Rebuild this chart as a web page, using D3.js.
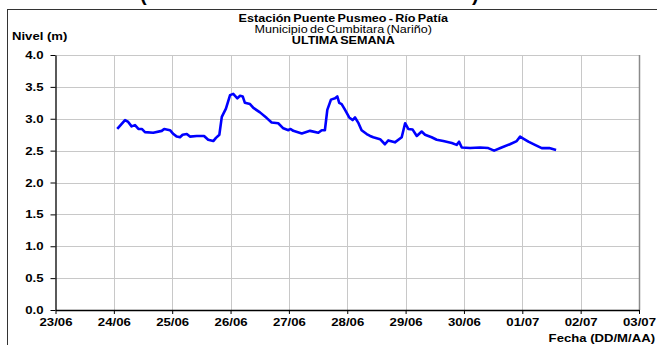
<!DOCTYPE html>
<html><head><meta charset="utf-8">
<script src="https://cdn.jsdelivr.net/npm/d3@7"></script>
<style>
html,body{margin:0;padding:0;background:#fff;overflow:hidden;}
text{font-family:"Liberation Sans",Arial,sans-serif;}
</style></head>
<body>
<script>
// ---- data ----
const startDate = "2023-06-23";
const hoursFromStart = [25.4,28.6,29.9,31.3,32.7,34.1,35.5,36.8,40.2,43.7,44.7,47.1,48.5,49.9,51.2,52.3,54.0,55.3,58.1,61.1,62.8,64.9,66.0,67.4,68.4,70.1,71.8,73.1,74.8,75.9,77.0,77.9,80.0,81.4,84.1,86.9,88.9,91.6,93.7,95.8,96.7,97.8,101.3,104.7,108.1,109.5,110.8,111.8,113.3,115.0,115.9,116.7,117.7,119.1,120.8,122.2,123.2,124.5,125.9,128.0,129.4,130.7,133.5,135.5,136.9,139.6,142.4,143.8,145.1,146.9,148.6,150.6,152.0,154.7,156.8,159.5,163.0,165.0,166.0,167.1,170.5,174.6,178.0,180.4,183.5,186.9,189.7,191.1,192.4,194.5,197.2,200.0,203.1,205.9];
const nivel = [2.84,2.98,2.95,2.88,2.90,2.84,2.84,2.79,2.78,2.81,2.84,2.82,2.76,2.72,2.71,2.75,2.76,2.72,2.73,2.73,2.67,2.65,2.70,2.75,3.03,3.16,3.37,3.39,3.32,3.36,3.35,3.25,3.23,3.17,3.10,3.01,2.94,2.93,2.85,2.82,2.84,2.81,2.77,2.81,2.78,2.82,2.82,3.14,3.30,3.32,3.35,3.25,3.23,3.14,3.02,2.98,3.02,2.94,2.82,2.76,2.73,2.71,2.68,2.60,2.66,2.63,2.71,2.93,2.84,2.83,2.73,2.80,2.75,2.71,2.67,2.65,2.62,2.59,2.64,2.55,2.54,2.55,2.54,2.50,2.55,2.60,2.65,2.72,2.69,2.64,2.59,2.54,2.54,2.51];
const xTickLabels = ["23/06","24/06","25/06","26/06","27/06","28/06","29/06","30/06","01/07","02/07","03/07"];
const yTickValues = [0,0.5,1,1.5,2,2.5,3,3.5,4];
const titleLines = ["Estación Puente Pusmeo - Río Patía","Municipio de Cumbitara (Nariño)","ULTIMA SEMANA"];
const yAxisTitle = "Nivel (m)";
const xAxisTitle = "Fecha (DD/M/AA)";

// ---- layout ----
const W = 657, H = 345;
const L = 55.5, R = 639, T = 55, B = 310;
const SX = 1.32;

const svg = d3.select("body").append("svg").attr("width", W).attr("height", H);

const t0 = d3.timeParse("%Y-%m-%d")(startDate);
const tEnd = d3.timeDay.offset(t0, 10);
const x = d3.scaleTime().domain([t0, tEnd]).range([L, R]);
const y = d3.scaleLinear().domain([0, 4]).range([B, T]);
const dayTicks = d3.timeDay.range(t0, d3.timeDay.offset(tEnd, 1));

// outer chart border
svg.append("rect").attr("x", 7.5).attr("y", 9.5).attr("width", 800).attr("height", 500)
  .attr("fill", "none").attr("stroke", "#333").attr("stroke-width", 1);

// partial parentheses from cut-off heading
svg.append("text").attr("x", 140).attr("y", 1).attr("font-size", 20).attr("font-weight", "bold").text("(");
svg.append("text").attr("x", 472).attr("y", 1).attr("font-size", 20).attr("font-weight", "bold").text(")");

// gridlines
svg.append("g").selectAll("line").data(yTickValues.filter(v => v > 0)).join("line")
  .attr("x1", L).attr("x2", R).attr("y1", d => Math.round(y(d)) + 0.5).attr("y2", d => Math.round(y(d)) + 0.5)
  .attr("stroke", "#c8c8c8").attr("stroke-width", 1);
svg.append("g").selectAll("line").data(dayTicks.slice(1)).join("line")
  .attr("x1", d => Math.round(x(d)) + 0.5).attr("x2", d => Math.round(x(d)) + 0.5)
  .attr("y1", T).attr("y2", B)
  .attr("stroke", (d, i, a) => i === a.length - 1 ? "#8a8a8a" : "#c8c8c8").attr("stroke-width", (d, i, a) => i === a.length - 1 ? 1.5 : 1);

// axes
const xAxis = d3.axisBottom(x).tickValues(dayTicks).tickFormat((d, i) => xTickLabels[i]).tickSize(4).tickSizeOuter(0);
const yAxis = d3.axisLeft(y).tickValues(yTickValues).tickFormat(d3.format(".1f")).tickSize(5).tickSizeOuter(0);

const gx = svg.append("g").attr("transform", `translate(0,${B})`).call(xAxis);
const gy = svg.append("g").attr("transform", `translate(${L},0)`).call(yAxis);
[gx, gy].forEach(g => {
  g.select(".domain").attr("stroke", "#000").attr("stroke-width", 1.3);
  g.selectAll(".tick line").attr("stroke", "#000").attr("stroke-width", 1);
  g.selectAll(".tick text").attr("font-family", "Liberation Sans, Arial, sans-serif")
    .attr("font-size", 10).attr("font-weight", "bold").attr("fill", "#000");
});
gx.selectAll(".tick text").attr("dy", null).attr("y", 0)
  .attr("transform", `translate(0,16) scale(${SX},1)`);
gy.selectAll(".tick text").attr("x", 0).attr("dy", "0.35em")
  .attr("transform", `translate(-12,0) scale(${SX},1)`);

// line
const data = hoursFromStart.map((h, i) => ({ t: d3.timeMinute.offset(t0, Math.round(h * 60)), v: nivel[i] }));
svg.append("path").datum(data)
  .attr("fill", "none").attr("stroke", "#0000ff").attr("stroke-width", 2.6).attr("stroke-linejoin", "round")
  .attr("d", d3.line().x(d => x(d.t)).y(d => y(d.v)));

// titles
const cx = (L + R) / 2 - 4;
const tl = [{ s: titleLines[0], y: 22, w: "bold" }, { s: titleLines[1], y: 33, w: "normal" }, { s: titleLines[2], y: 44, w: "bold" }];
svg.append("g").selectAll("text").data(tl).join("text")
  .attr("transform", d => `translate(${cx},${d.y}) scale(1.2,1)`)
  .attr("text-anchor", "middle").attr("font-size", 10.5).attr("font-weight", d => d.w)
  .attr("word-spacing", -1).text(d => d.s);

svg.append("text").attr("transform", `translate(12,40) scale(1.25,1)`)
  .attr("font-size", 10.5).attr("font-weight", "bold").text(yAxisTitle);
svg.append("text").attr("transform", `translate(655,342) scale(1.25,1)`)
  .attr("text-anchor", "end").attr("font-size", 10.5).attr("font-weight", "bold").text(xAxisTitle);
</script>
</body></html>
